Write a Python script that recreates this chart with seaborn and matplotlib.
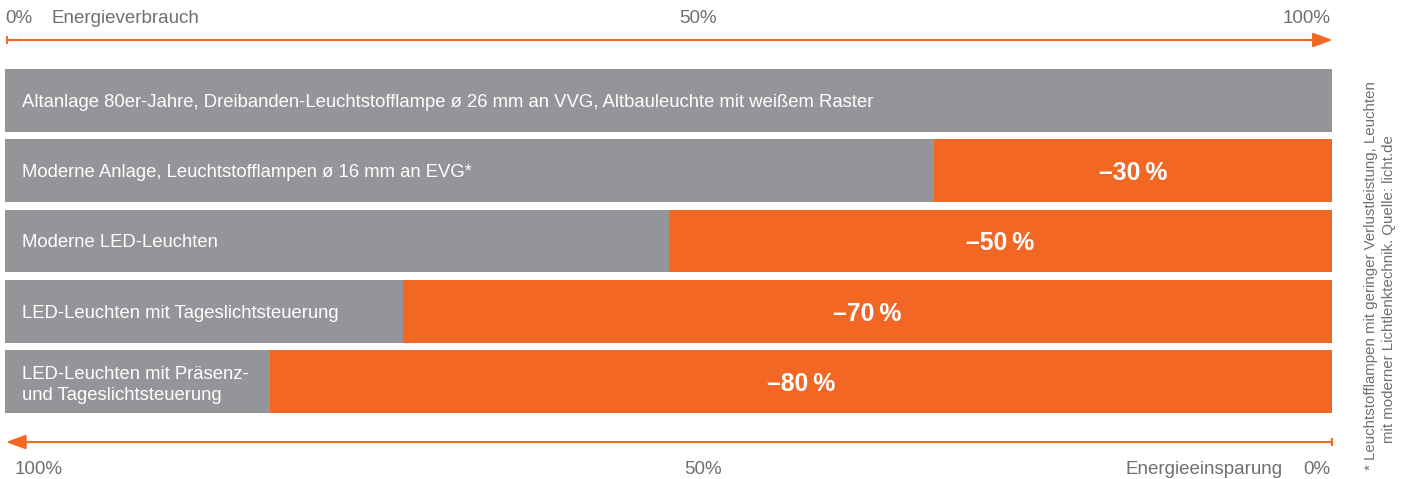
import matplotlib
matplotlib.use("Agg")
import matplotlib.pyplot as plt
import seaborn as sns
import pandas as pd

# --- data -----------------------------------------------------------------
anlagen = [
    "Altanlage 80er-Jahre, Dreibanden-Leuchtstofflampe ø 26 mm an VVG, Altbauleuchte mit weißem Raster",
    "Moderne Anlage, Leuchtstofflampen ø 16 mm an EVG*",
    "Moderne LED-Leuchten",
    "LED-Leuchten mit Tageslichtsteuerung",
    "LED-Leuchten mit Präsenz-\nund Tageslichtsteuerung",
]
verbrauch = [100, 70, 50, 30, 20]      # Energieverbrauch in %
einsparung = [0, 30, 50, 70, 80]       # Energieeinsparung in %

oben_links = ["0%", "Energieverbrauch"]
oben_mitte = "50%"
oben_rechts = "100%"
unten_links = "100%"
unten_mitte = "50%"
unten_rechts = ["Energieeinsparung", "0%"]
fussnote = ["* Leuchtstofflampen mit geringer Verlustleistung, Leuchten",
            "mit moderner Lichtlenktechnik. Quelle: licht.de"]

# --- style ----------------------------------------------------------------
sns.set_theme(style="white")
plt.rcParams["font.family"] = ["Liberation Sans", "DejaVu Sans"]

ORANGE = "#F26724"
GRAU = "#939598"
TEXT = "#6F7072"

df = pd.DataFrame({
    "anlage": anlagen,
    "verbrauch": verbrauch,
    "einsparung": einsparung,
})
df["gesamt"] = df["verbrauch"] + df["einsparung"]

fig = plt.figure(figsize=(14.07, 4.79), dpi=100)
ax = fig.add_axes([0, 0, 1, 1])

# full bar (saving) in orange, consumption in grey on top
sns.barplot(data=df, x="gesamt", y="anlage", color=ORANGE, saturation=1,
            width=0.89, errorbar=None, ax=ax, orient="h")
sns.barplot(data=df, x="verbrauch", y="anlage", color=GRAU, saturation=1,
            width=0.89, errorbar=None, ax=ax, orient="h")
for p in ax.patches:
    p.set_linewidth(0)

ax.set_xlim(-0.377, 105.65)
ax.set_ylim(5.388, -1.4306)
ax.axis("off")

# labels inside the bars
for i, row in df.iterrows():
    ax.text(1.28, i, row["anlage"], color="white", fontsize=13.35,
            ha="left", va="center_baseline", linespacing=1.27)
    if row["einsparung"] > 0:
        mitte = (row["verbrauch"] + row["gesamt"]) / 2
        ax.text(mitte, i, f"–{row['einsparung']:d}\u2009%", color="white",
                fontsize=17.8, fontweight="bold", ha="center",
                va="center_baseline")

# top axis: consumption arrow
y_top = -0.8612
ax.annotate("", xy=(100.05, y_top), xytext=(0.13, y_top),
            arrowprops=dict(arrowstyle="-|>,head_length=12,head_width=4.4",
                            mutation_scale=1, color=ORANGE, lw=1.5,
                            shrinkA=0, shrinkB=0))
ax.plot([0.13], [y_top], marker="|", markersize=6, mew=1.5, color=ORANGE)

FS = 13.5
y_ttxt = -1.19
ax.text(0.0, y_ttxt, oben_links[0], color=TEXT, fontsize=FS,
        ha="left", va="center_baseline")
ax.text(3.54, y_ttxt, oben_links[1], color=TEXT, fontsize=FS,
        ha="left", va="center_baseline")
ax.text(52.2, y_ttxt, oben_mitte, color=TEXT, fontsize=FS,
        ha="center", va="center_baseline")
ax.text(99.9, y_ttxt, oben_rechts, color=TEXT, fontsize=FS,
        ha="right", va="center_baseline")

# bottom axis: saving arrow
y_bot = 4.862
ax.annotate("", xy=(0.075, y_bot), xytext=(99.97, y_bot),
            arrowprops=dict(arrowstyle="-|>,head_length=12,head_width=4.4",
                            mutation_scale=1, color=ORANGE, lw=1.5,
                            shrinkA=0, shrinkB=0))
ax.plot([99.97], [y_bot], marker="|", markersize=6, mew=1.5, color=ORANGE)

y_btxt = 5.23
ax.text(0.75, y_btxt, unten_links, color=TEXT, fontsize=FS,
        ha="left", va="center_baseline")
ax.text(52.6, y_btxt, unten_mitte, color=TEXT, fontsize=FS,
        ha="center", va="center_baseline")
ax.text(96.3, y_btxt, unten_rechts[0], color=TEXT, fontsize=FS,
        ha="right", va="center_baseline")
ax.text(99.9, y_btxt, unten_rechts[1], color=TEXT, fontsize=FS,
        ha="right", va="center_baseline")

# vertical footnote
W, H = 1407, 479
fig.text(1371 / W, 1 - 470 / H, fussnote[0], rotation=90, color=TEXT,
         fontsize=10.8, ha="center", va="bottom")
fig.text(1389 / W, 1 - 443 / H, fussnote[1], rotation=90, color=TEXT,
         fontsize=10.8, ha="center", va="bottom")

fig.savefig("out.png", dpi=100, facecolor="white")
